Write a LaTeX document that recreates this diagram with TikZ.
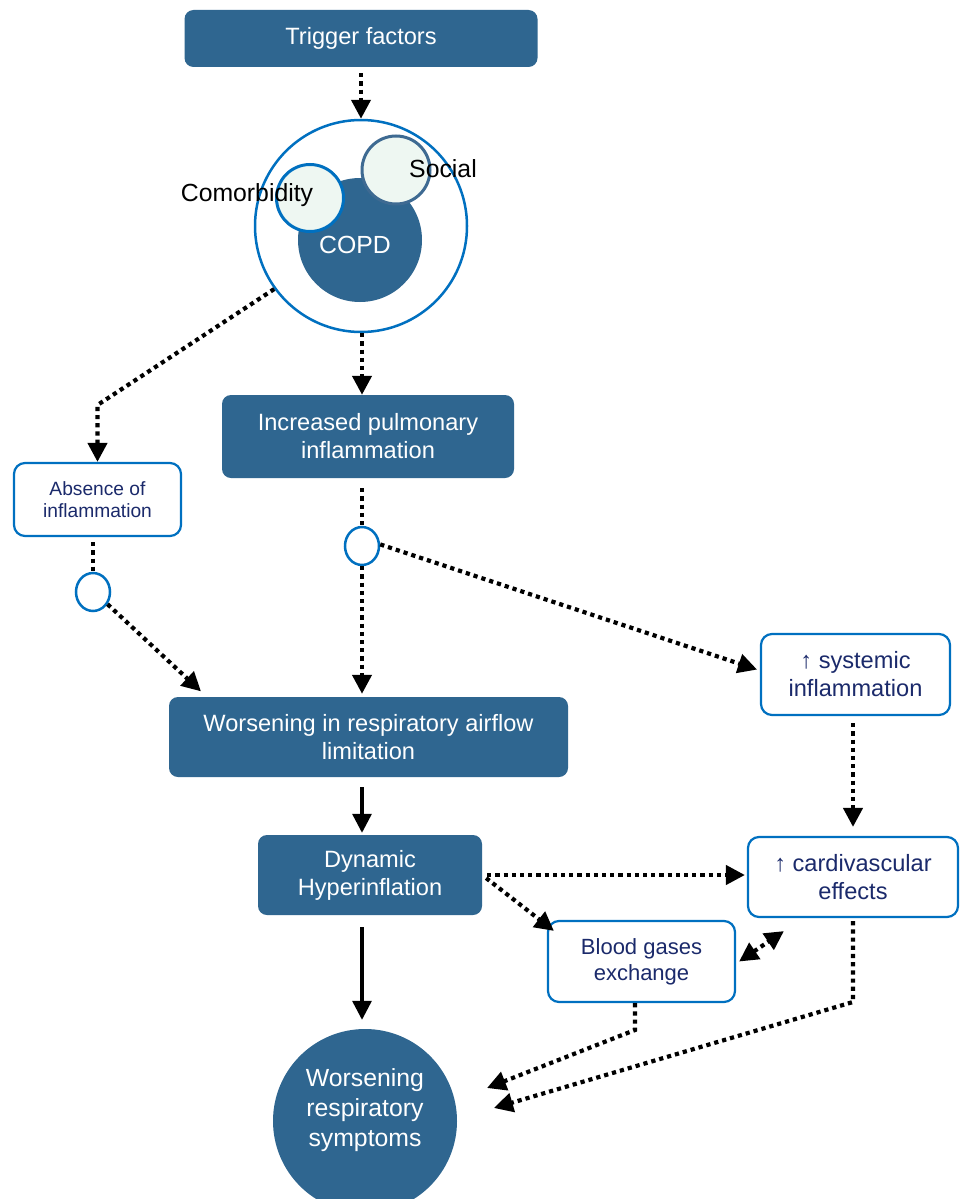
\documentclass[tikz,border=0pt]{standalone}
\usepackage{fontspec}
\setmainfont{Liberation Sans}
\usetikzlibrary{arrows.meta,shapes.geometric}
\definecolor{copdblue}{HTML}{2F6690}
\definecolor{rimblue}{HTML}{0070C0}
\definecolor{navytext}{HTML}{1B2A6B}
\definecolor{palegreen}{HTML}{EEF7F2}
\definecolor{slateblue}{HTML}{3E6A92}
\newcommand{\boxfont}{\fontsize{23.6}{28}\selectfont}
\newcommand{\bigfont}{\fontsize{24.8}{30}\selectfont}
\newcommand{\midfont}{\fontsize{22}{26}\selectfont}
\newcommand{\smallfont}{\fontsize{19.2}{22.5}\selectfont}
\begin{document}
\begin{tikzpicture}[x=1pt,y=-1pt,
	darkbox/.style={rounded corners=9pt, fill=copdblue, text=white, align=center, inner sep=0pt, font=\boxfont},
	whitebox/.style={rounded corners=11pt, draw=rimblue, line width=2.2pt, fill=white, text=navytext, align=center, inner sep=0pt, font=\boxfont},
	junction/.style={ellipse, draw=rimblue, line width=2.5pt, minimum width=34pt, minimum height=38pt, inner sep=0pt},
	dotline/.style={line width=4.2pt, dash pattern=on 4.2pt off 4pt},
	dotarrow/.style={dotline, -{Triangle[length=19pt,width=19pt]}},
	solidarrow/.style={line width=3.2pt, -{Triangle[length=19pt,width=19pt]}}]
	\useasboundingbox (0,0) rectangle (961,1199);
	\fill[white] (0,0) rectangle (961,1199);
	
	% top: trigger and COPD cluster
	\node[darkbox, minimum width=353pt, minimum height=57pt] (trigger) at (361,38.5) {Trigger factors};
	\node[circle, draw=rimblue, line width=2.5pt, minimum size=212pt] (outer) at (361,226) {};
	\node[circle, fill=copdblue, minimum size=124pt] (copd) at (360,240) {};
	\node[circle, draw=rimblue, fill=palegreen, line width=3pt, minimum size=67pt] (comorb) at (310,198) {};
	\node[circle, draw=slateblue, fill=palegreen, line width=3pt, minimum size=68pt] (social) at (396,170) {};
	\node[text=white, font=\bigfont] (copdlabel) at (355,245) {COPD};
	\node[font=\bigfont] (comorblabel) at (247,195) {Comorbidity};
	\node[font=\bigfont] (sociallabel) at (443,169) {Social};
	
	% middle
	\node[darkbox, minimum width=292pt, minimum height=83pt] (pulm) at (368,436.5) {Increased pulmonary\\inflammation};
	\node[whitebox, font=\smallfont, minimum width=167pt, minimum height=73pt] (absence) at (97.5,499.5) {Absence of\\inflammation};
	\node[junction] (j1) at (93,592) {};
	\node[junction] (j2) at (362,546) {};
	\node[darkbox, minimum width=399pt, minimum height=80pt] (airflow) at (368.5,737) {Worsening in respiratory airflow\\limitation};
	\node[whitebox, minimum width=189pt, minimum height=81pt] (systemic) at (855.5,674.5) {↑ systemic\\inflammation};
	
	% bottom
	\node[darkbox, minimum width=224pt, minimum height=80pt] (dynamic) at (370,875) {Dynamic\\Hyperinflation};
	\node[whitebox, minimum width=210pt, minimum height=80pt] (cardio) at (853,877) {↑ cardivascular\\effects};
	\node[whitebox, font=\midfont, minimum width=187pt, minimum height=81pt] (blood) at (641.5,961.5) {Blood gases\\exchange};
	\node[circle, fill=copdblue, minimum size=184pt] (symptoms) at (365,1121) {};
	\node[text=white, align=center, font=\bigfont] (symptomstext) at (365,1110) {Worsening\\respiratory\\symptoms};
	
	\coordinate (axis) at (362,0);
	\coordinate (bendA) at (97.5,405);
	\coordinate (bendB) at (635,1030);
	\coordinate (tipB) at (487,1088);
	\coordinate (bendC) at (853,1002);
	\coordinate (tipC) at (494,1108);
	
	\draw[dotarrow, shorten <=6pt] (trigger.south) -- (outer.north);
	\draw[dotarrow] (outer.216) -- (bendA) -- (absence.north);
	\draw[dotarrow] (axis |- outer.south) -- (axis |- pulm.north);
	\draw[dotline, shorten <=10pt] (axis |- pulm.south) -- (j2.north);
	\draw[dotline, shorten <=5pt] (j1 |- absence.south) -- (j1.north);
	\draw[dotarrow, shorten >=8pt] (j1.-40) -- ([xshift=38pt]airflow.north west);
	\draw[dotarrow, shorten >=3pt] (j2.south) -- (axis |- airflow.north);
	\draw[dotarrow, shorten >=3pt] (j2.5) -- ([yshift=4pt]systemic.west);
	\draw[solidarrow, shorten <=10pt, shorten >=2pt] (axis |- airflow.south) -- (axis |- dynamic.north);
	\draw[solidarrow, shorten <=12pt, shorten >=9pt] (axis |- dynamic.south) -- (axis |- symptoms.north);
	\draw[dotarrow, shorten <=5pt, shorten >=2pt] (dynamic.east) -- (dynamic.east -| cardio.west);
	\draw[dotarrow, shorten <=5pt] (dynamic.east) -- ([xshift=7pt,yshift=-11pt]blood.north west);
	\draw[dotarrow, shorten <=7pt, shorten >=9pt] (cardio.north |- systemic.south) -- (cardio.north);
	\draw[dotline, {Triangle[length=19pt,width=19pt]}-{Triangle[length=19pt,width=19pt]}] ([xshift=3pt]blood.east) -- ([xshift=37pt,yshift=-13pt]cardio.south west);
	\draw[dotarrow] (bendB |- blood.south) -- (bendB) -- (tipB);
	\draw[dotarrow, shorten <=3pt] (cardio.south) -- (bendC) -- (tipC);
\end{tikzpicture}
\end{document}
